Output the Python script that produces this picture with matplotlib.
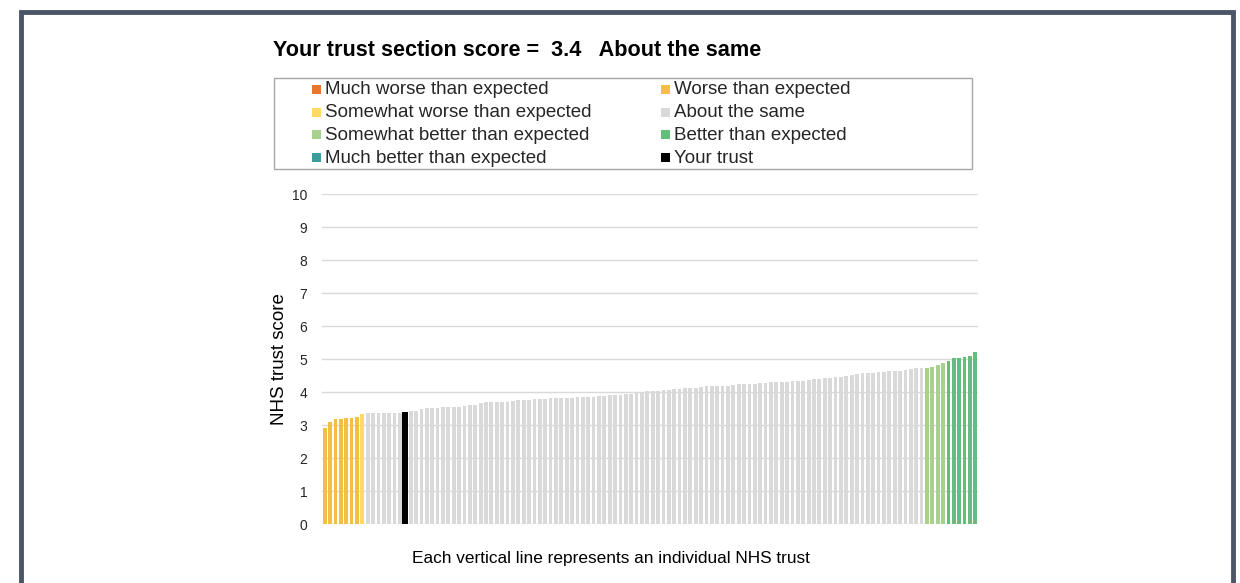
import matplotlib
matplotlib.use('Agg')
import matplotlib.pyplot as plt
from matplotlib.patches import Rectangle

plt.rcParams['font.family'] = ['Liberation Sans', 'DejaVu Sans']

# scores of every trust, sorted low to high
scores = [
    2.92, 3.10, 3.18, 3.20, 3.21, 3.21, 3.25, 3.33, 3.36, 3.36,
    3.36, 3.38, 3.38, 3.38, 3.38, 3.41, 3.43, 3.43, 3.49, 3.51,
    3.51, 3.52, 3.54, 3.56, 3.56, 3.56, 3.59, 3.61, 3.61, 3.67,
    3.70, 3.70, 3.72, 3.72, 3.72, 3.75, 3.77, 3.77, 3.77, 3.79,
    3.79, 3.79, 3.82, 3.82, 3.82, 3.82, 3.82, 3.85, 3.85, 3.85,
    3.87, 3.88, 3.90, 3.92, 3.92, 3.92, 3.95, 3.95, 3.98, 4.02,
    4.05, 4.05, 4.05, 4.07, 4.07, 4.10, 4.10, 4.12, 4.13, 4.13,
    4.15, 4.18, 4.18, 4.18, 4.18, 4.20, 4.22, 4.25, 4.25, 4.25,
    4.25, 4.27, 4.28, 4.30, 4.30, 4.30, 4.30, 4.33, 4.34, 4.34,
    4.37, 4.39, 4.39, 4.42, 4.44, 4.47, 4.47, 4.49, 4.52, 4.55,
    4.57, 4.57, 4.59, 4.62, 4.62, 4.65, 4.65, 4.65, 4.68, 4.71,
    4.73, 4.75, 4.75, 4.77, 4.83, 4.88, 4.96, 5.03, 5.03, 5.08,
    5.10, 5.21,
]

# band of each trust, same order as scores
bands = (['worse'] * 7 + ['somewhat_worse'] + ['same'] * 7 + ['yours']
         + ['same'] * 96 + ['somewhat_better'] * 4 + ['better'] * 6)

band_colors = {
    'much_worse': '#E8772E',
    'worse': '#F2BE45',
    'somewhat_worse': '#FFD966',
    'same': '#D9D9D9',
    'somewhat_better': '#A9D18E',
    'better': '#63BE7B',
    'much_better': '#3D9C9C',
    'yours': '#000000',
}

legend_labels = [
    ('much_worse', 'Much worse than expected'),
    ('worse', 'Worse than expected'),
    ('somewhat_worse', 'Somewhat worse than expected'),
    ('same', 'About the same'),
    ('somewhat_better', 'Somewhat better than expected'),
    ('better', 'Better than expected'),
    ('much_better', 'Much better than expected'),
    ('yours', 'Your trust'),
]

your_score = 3.4
your_band = 'About the same'

W, H = 1240, 583
fig = plt.figure(figsize=(W / 100, H / 100), dpi=100)

# dark frame around the whole panel (bottom runs off the image)
fig.patches.append(Rectangle((21 / W, -0.05), 1212 / W, 1.05 - 12 / H,
                             transform=fig.transFigure, fill=False,
                             edgecolor='#4A5667', linewidth=3.5))

fig.text(273 / W, 1 - 51 / H,
         'Your trust section score =  {}   {}'.format(your_score, your_band),
         fontsize=15.6, fontweight='bold', va='center', ha='left', color='#000000')

# legend box
fig.patches.append(Rectangle((274 / W, 1 - 169 / H), 698 / W, 91 / H,
                             transform=fig.transFigure, fill=False,
                             edgecolor='#A6A6A6', linewidth=1))
col_x = [312, 661]
row_y = [89, 112, 134, 157]
for i, (key, label) in enumerate(legend_labels):
    cx = col_x[i % 2]
    cy = row_y[i // 2]
    fig.patches.append(Rectangle((cx / W, 1 - (cy + 5) / H), 9 / W, 9 / H,
                                 transform=fig.transFigure,
                                 facecolor=band_colors[key], edgecolor='none'))
    fig.text((cx + 13) / W, 1 - (cy + 1) / H, label, fontsize=13.5, va='center',
             ha='left', color='#262626')

ax = fig.add_axes([322 / W, 1 - 524.3 / H, 656 / W, 330 / H])
x = list(range(len(scores)))
colors = [band_colors[b] for b in bands]
widths = [1.1 if b == 'yours' else 0.7 for b in bands]
ax.bar(x, scores, width=widths, color=colors, zorder=3)

ax.set_xlim(-0.5, len(scores) - 0.5)
ax.set_ylim(0, 10)
ax.set_yticks(range(0, 11))
ax.set_xticks([])
ax.grid(axis='y', color='#D9D9D9', linewidth=1, zorder=0)
for s in ax.spines.values():
    s.set_visible(False)
ax.tick_params(axis='y', length=0, pad=10.5, labelsize=10, labelcolor='#262626')
ax.set_ylabel('NHS trust score', fontsize=13.5, color='#000000', labelpad=3)

fig.text(611 / W, 1 - 559 / H,
         'Each vertical line represents an individual NHS trust',
         fontsize=12.4, color='#000000', ha='center', va='center')

fig.savefig('out.png', dpi=100)
